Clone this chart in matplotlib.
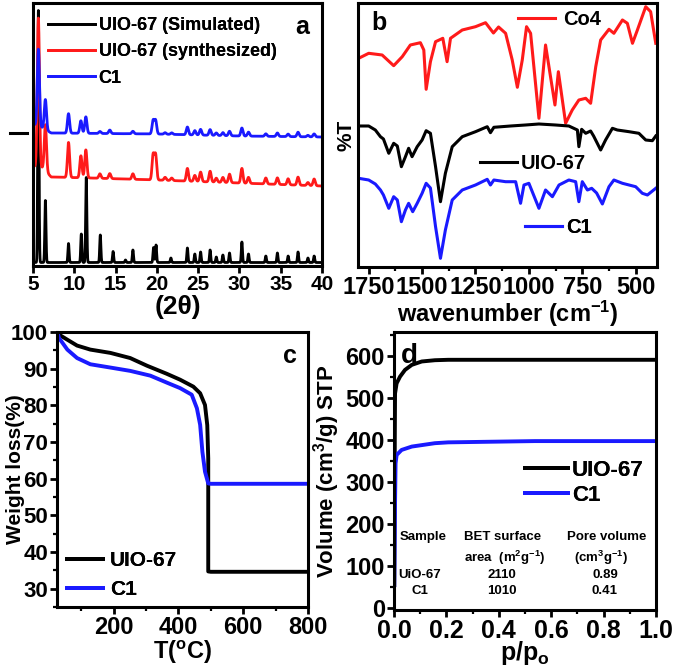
from __future__ import annotations

import matplotlib

matplotlib.use("Agg")
import matplotlib.pyplot as plt
import numpy as np
from matplotlib.axes import Axes
from matplotlib.lines import Line2D
from matplotlib.ticker import MultipleLocator, NullLocator

RED = "#ff1a1a"
BLUE = "#1a1aff"

# (a) PXRD, peak tables (2theta, height above baseline)
SIM_POS = [5.65, 6.5, 9.3, 10.85, 11.45, 13.15, 14.7, 16.2, 17.1, 19.6, 19.9,
           21.7, 23.7, 24.6, 25.3, 26.45, 27.2, 28.0, 28.8, 30.3, 31.1, 33.2,
           34.6, 35.9, 37.1, 38.3, 39.05]
SIM_AMP = [252, 62, 19, 28.5, 85, 27.5, 11, 2.5, 12.5, 15, 17.5,
           4.5, 14.5, 8.5, 10.5, 12.5, 5.5, 7.5, 9.5, 20.5, 8.5, 6.5,
           9.5, 6.5, 10.5, 4.5, 6.5]
SIM_BASE_X = [5, 40]
SIM_BASE_Y = [3.5, 3.5]

SYN_POS = [5.65, 6.5, 9.3, 10.8, 11.4, 13.1, 14.3, 17.1, 19.55, 19.85, 21.0,
           21.8, 23.7, 24.6, 25.3, 26.45, 27.2, 28.0, 28.8, 30.3, 31.1, 33.2,
           34.6, 35.9, 37.1, 38.3, 39.05]
SYN_AMP = [149, 46, 35, 22, 28, 4.5, 5, 5.5, 25, 25, 3,
           2.5, 12.7, 6, 9.5, 10.7, 4, 5, 8.5, 14.7, 6, 6,
           6.5, 6, 8, 3, 6.7]
SYN_BASE_X = [5, 6.2, 7.2, 12, 20, 30, 40]
SYN_BASE_Y = [100, 98, 89, 88, 86, 83, 80]

C1_POS = SYN_POS
C1_AMP = [77, 30, 19.5, 12.5, 16.5, 2, 3.5, 2.5, 13.5, 13.5, 1.5,
          1.5, 7.7, 4.3, 5.7, 5.7, 2.5, 3, 4.5, 8, 4, 2.5,
          3.5, 2.5, 4.5, 1.5, 3]
C1_BASE_X = [5, 6.2, 7.2, 20, 30, 40]
C1_BASE_Y = [142, 138, 133, 132, 130, 129]

# (b) FTIR traces (wavenumber, %T offset)
WN_CO4 = [1797, 1750, 1687, 1633, 1593, 1555, 1508, 1492, 1481, 1461, 1437,
          1403, 1383, 1367, 1312, 1250, 1203, 1166, 1142, 1109, 1078, 1054,
          1031, 1011, 992, 953, 922, 878, 862, 828, 797, 766, 734, 711, 687,
          664, 625, 602, 562, 539, 515, 492, 453, 430, 406]
T_CO4 = [208.7, 213.7, 212, 201.3, 210.3, 222, 224.3, 217, 177.7, 205.3, 225.3,
         228.7, 205.3, 228.7, 237, 240.3, 244.3, 234, 240, 233.7, 207, 179.7,
         207, 240.3, 233.7, 148.7, 222, 162, 195.3, 143.7, 157, 167, 168.7,
         163.7, 200.3, 227, 237.7, 233.7, 247, 243.7, 223.7, 237, 260.3,
         255.3, 223.7]

WN_UIO = [1797, 1750, 1719, 1695, 1681, 1656, 1633, 1616, 1597, 1578, 1563,
          1547, 1523, 1500, 1481, 1461, 1437, 1414, 1391, 1359, 1312, 1250,
          1195, 1180, 1164, 1086, 1016, 953, 875, 813, 773, 766, 753, 734, 711,
          697, 664, 641, 609, 586, 531, 485, 453, 422, 406]
T_UIO = [141, 141, 137, 130.3, 128, 113.7, 123.7, 121, 100.3, 110.3, 118.7,
         110.3, 120.3, 127, 136.3, 133.7, 100.3, 65.3, 93.7, 120.3, 130.3,
         135.3, 140.3, 134.3, 139.7, 141, 142, 143, 142, 141, 137, 120.3,
         137.7, 133.7, 136, 131, 117, 127, 138.7, 137, 135.3, 133.7, 127,
         126.3, 131]

WN_C1 = [1797, 1750, 1719, 1695, 1681, 1656, 1633, 1616, 1597, 1578, 1563,
         1544, 1523, 1500, 1481, 1461, 1437, 1414, 1391, 1359, 1312, 1250,
         1195, 1180, 1164, 1109, 1062, 1039, 1023, 1000, 953, 922, 890, 859,
         813, 781, 766, 750, 726, 706, 683, 656, 625, 602, 562, 500, 469, 445,
         406]
T_C1 = [88.7, 87, 83, 77, 72, 58.7, 70.3, 67, 45.3, 57, 63.7,
        55.3, 63.7, 73.7, 83.7, 79, 40.3, 8.7, 37, 67, 77, 82,
        87.7, 82, 87, 85.3, 85.3, 63.7, 82, 83.7, 58.7, 77, 70.3, 82,
        87, 85.3, 65.3, 85.3, 77, 78.7, 74, 63, 80.3, 87, 83.7, 80.3, 73.7, 72,
        78.7]

# (c) TGA
T_TGA_UIO = [28, 31, 57, 87, 128, 190, 251, 303, 364, 405, 446, 467, 482, 489,
             492, 492, 500, 800]
W_TGA_UIO = [100, 99.3, 97.9, 96.3, 95.2, 94.3, 92.9, 90.8, 88.6, 87, 85.1,
             83.3, 80.1, 74.6, 65.5, 34.7, 34.6, 34.6]
T_TGA_C1 = [28, 31, 57, 87, 128, 190, 251, 313, 364, 405, 441, 457, 467, 474,
            482, 492, 500, 800]
W_TGA_C1 = [99.5, 98.4, 95.2, 92.9, 91.2, 90.3, 89.4, 88.1, 86.2, 84.7, 82.9,
            79.2, 74.7, 67.3, 61.9, 58.7, 58.6, 58.6]

# (d) N2 isotherms
P_UIO = [0.001, 0.003, 0.004, 0.010, 0.023, 0.042, 0.068, 0.106, 0.156, 0.207,
         0.5, 1.0]
V_UIO = [55, 400, 510, 534, 550, 566, 578, 586, 589, 590, 590, 590]
P_C1 = [0.001, 0.004, 0.006, 0.010, 0.029, 0.068, 0.156, 0.207, 0.538, 1.0]
V_C1 = [55, 250, 344, 364, 376, 384, 392, 394, 397, 397]

TABLE_HEAD = ["Sample", "BET surface", "Pore volume"]
TABLE_UNITS = ["", "area  (m$^2$g$^{-1}$)", "(cm$^3$g$^{-1}$)"]
TABLE_ROWS = [["UiO-67", "2110", "0.89"], ["C1", "1010", "0.41"]]


def xrd_trace(grid, base_x, base_y, pos, amp, width):
    """
    Baseline plus one narrow peak per table entry.
    """
    y = np.interp(grid, base_x, base_y)
    for p, a in zip(pos, amp):
        y = y + a * np.exp(-0.5 * ((grid - p) / width) ** 2)
    return y


def style_axes(ax: Axes, size: float) -> None:
    """
    Thick frame and outward ticks like the Origin originals.
    """
    for side in ax.spines.values():
        side.set_linewidth(2.2)
    ax.tick_params(which="major", direction="out", length=5, width=2, pad=1.5,
                   labelsize=size, top=False, right=False)
    ax.tick_params(which="minor", direction="out", length=3, width=1.6,
                   top=False, right=False)


def small_legend(ax, handles, labels, anchor, size, hlen, pad, spacing=0.3):
    leg = ax.legend(handles, labels, loc="upper left", bbox_to_anchor=anchor,
                    frameon=False, fontsize=size, handlelength=hlen,
                    handletextpad=pad, labelspacing=spacing, borderpad=0,
                    borderaxespad=0)
    ax.add_artist(leg)
    return leg


plt.rcParams["font.family"] = ["Liberation Sans", "DejaVu Sans"]
plt.rcParams["font.weight"] = "bold"
plt.rcParams["axes.labelweight"] = "bold"
plt.rcParams["mathtext.fontset"] = "custom"
plt.rcParams["mathtext.rm"] = "Liberation Sans:bold"
plt.rcParams["mathtext.it"] = "Liberation Sans:bold"
plt.rcParams["mathtext.bf"] = "Liberation Sans:bold"

fig = plt.figure(figsize=(6.75, 6.66), dpi=100)

# ---------------- (a) ----------------
ax_a = fig.add_axes([0.0489, 0.6006, 0.4281, 0.3949])
grid = np.arange(5, 40.0001, 0.01)
y_sim = xrd_trace(grid, SIM_BASE_X, SIM_BASE_Y, SIM_POS, SIM_AMP, 0.07)
y_syn = xrd_trace(grid, SYN_BASE_X, SYN_BASE_Y, SYN_POS, SYN_AMP, 0.13)
y_c1 = xrd_trace(grid, C1_BASE_X, C1_BASE_Y, C1_POS, C1_AMP, 0.13)
la1, = ax_a.plot(grid, y_sim, color="k", lw=2.0)
la2, = ax_a.plot(grid, y_syn, color=RED, lw=2.0)
la3, = ax_a.plot(grid, y_c1, color=BLUE, lw=2.0)
ax_a.set_xlim(5, 40)
ax_a.set_ylim(0, 263)
ax_a.xaxis.set_major_locator(MultipleLocator(5))
ax_a.yaxis.set_major_locator(NullLocator())
style_axes(ax_a, 15)
ax_a.set_xlabel("(2θ)", fontsize=19, labelpad=1)
ax_a.text(0.955, 0.955, "a", transform=ax_a.transAxes, fontsize=18,
          ha="right", va="top")
small_legend(ax_a, [la1, la2, la3],
             ["UIO-67 (Simulated)", "UIO-67 (synthesized)", "C1"],
             (0.052, 0.945), 13, 2.6, 0.2, 0.5)

# ---------------- (b) ----------------
ax_b = fig.add_axes([0.5304, 0.5991, 0.4430, 0.3964])
lb1, = ax_b.plot(WN_CO4, T_CO4, color=RED, lw=2.2)
lb2, = ax_b.plot(WN_UIO, T_UIO, color="k", lw=2.2)
lb3, = ax_b.plot(WN_C1, T_C1, color=BLUE, lw=2.2)
ax_b.set_xlim(1800, 400)
ax_b.set_ylim(0, 264)
ax_b.xaxis.set_major_locator(MultipleLocator(250))
ax_b.xaxis.set_minor_locator(MultipleLocator(125))
ax_b.yaxis.set_major_locator(NullLocator())
style_axes(ax_b, 17)
ax_b.set_xlabel("wavenumber (cm$^{-1}$)", fontsize=17, labelpad=0)
ax_b.set_ylabel("%T", fontsize=15, labelpad=2)
ax_b.text(0.045, 0.97, "b", transform=ax_b.transAxes, fontsize=18,
          ha="left", va="top")
small_legend(ax_b, [lb1], ["Co4"], (0.535, 0.973), 14.5, 1.85, 0.4)
small_legend(ax_b, [lb2], ["UIO-67"], (0.408, 0.428), 14.5, 1.85, 0.15)
small_legend(ax_b, [lb3], ["C1"], (0.559, 0.186), 14.5, 1.85, 0.2)

# ---------------- (c) ----------------
ax_c = fig.add_axes([0.0844, 0.0886, 0.3719, 0.4129])
lc1, = ax_c.plot(T_TGA_UIO, W_TGA_UIO, color="k", lw=2.8)
lc2, = ax_c.plot(T_TGA_C1, W_TGA_C1, color=BLUE, lw=2.8)
ax_c.set_xlim(25, 800)
ax_c.set_ylim(25, 100)
ax_c.xaxis.set_major_locator(MultipleLocator(200))
ax_c.xaxis.set_minor_locator(MultipleLocator(100))
ax_c.yaxis.set_major_locator(MultipleLocator(10))
ax_c.yaxis.set_minor_locator(MultipleLocator(5))
style_axes(ax_c, 17)
ax_c.tick_params(axis="y", labelsize=16)
ax_c.set_xlabel("T($^o$C)", fontsize=17, labelpad=0)
ax_c.set_ylabel("Weight loss(%)", fontsize=15)
ax_c.yaxis.set_label_coords(-0.128, 0.5)
ax_c.text(0.955, 0.955, "c", transform=ax_c.transAxes, fontsize=18,
          ha="right", va="top")
small_legend(ax_c, [lc1, lc2], ["UIO-67", "C1"], (0.04, 0.204), 15, 1.75,
             0.3, 0.5)

# ---------------- (d) ----------------
ax_d = fig.add_axes([0.5837, 0.0841, 0.3881, 0.4174])
ld1, = ax_d.plot(P_UIO, V_UIO, color="k", lw=2.8)
ld2, = ax_d.plot(P_C1, V_C1, color=BLUE, lw=2.8)
ax_d.set_xlim(0, 1)
ax_d.set_ylim(-4, 656)
ax_d.xaxis.set_major_locator(MultipleLocator(0.2))
ax_d.xaxis.set_minor_locator(MultipleLocator(0.1))
ax_d.yaxis.set_major_locator(MultipleLocator(100))
ax_d.yaxis.set_minor_locator(MultipleLocator(50))
style_axes(ax_d, 17)
ax_d.tick_params(axis="x", labelsize=18)
ax_d.set_xlabel("p/p$_o$", fontsize=18, labelpad=-3)
ax_d.set_ylabel("Volume (cm$^3$/g) STP", fontsize=16)
ax_d.yaxis.set_label_coords(-0.2, 0.5)
ax_d.text(0.025, 0.96, "d", transform=ax_d.transAxes, fontsize=20,
          ha="left", va="top")
small_legend(ax_d, [ld1, ld2], ["UIO-67", "C1"], (0.5, 0.539), 16, 1.94,
             0.18, 0.18)

col_x = [0.113, 0.416, 0.813]
for cx, head in zip(col_x, TABLE_HEAD):
    ax_d.text(cx, 0.263, head, transform=ax_d.transAxes, fontsize=9.5,
              ha="center", va="center")
for cx, unit in zip([0.113, 0.424, 0.79], TABLE_UNITS):
    ax_d.text(cx, 0.187, unit, transform=ax_d.transAxes, fontsize=9.5,
              ha="center", va="center")
for ry, row in zip([0.126, 0.068], TABLE_ROWS):
    for cx, cell in zip([0.099, 0.412, 0.805], row):
        ax_d.text(cx, ry, cell, transform=ax_d.transAxes, fontsize=9.5,
                  ha="center", va="center")

# stray dash left of panel a in the original
fig.add_artist(Line2D([10 / 675, 27 / 675], [1 - 133 / 666] * 2,
                      transform=fig.transFigure, color="k", lw=2.2))

fig.savefig("out.png", dpi=100)
plt.close(fig)
